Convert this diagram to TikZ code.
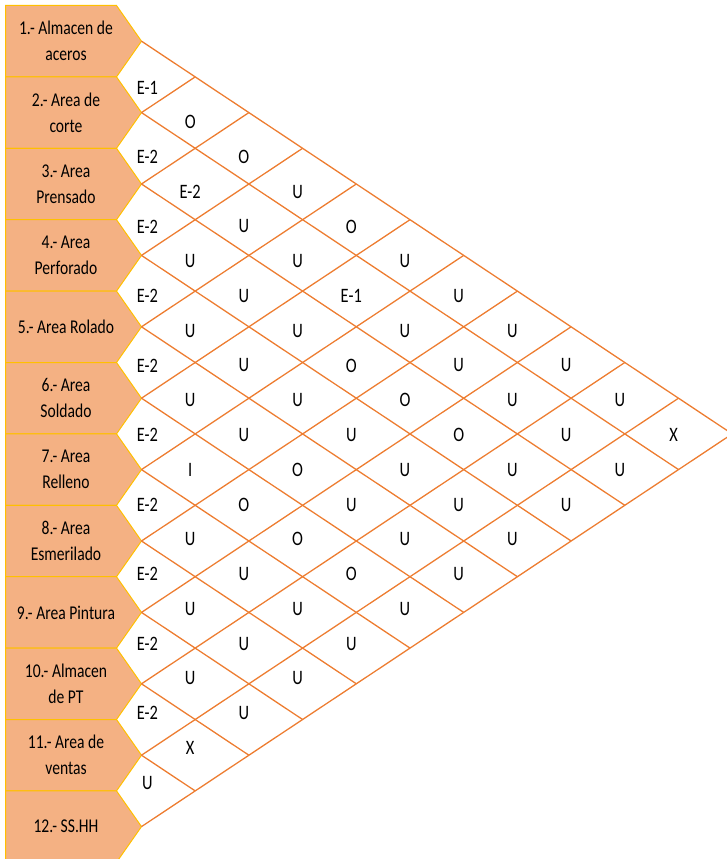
\documentclass[tikz,border=0pt]{standalone}
\usepackage{fontspec}
\setmainfont[FakeStretch=0.8]{Carlito}
\usetikzlibrary{calc}
\definecolor{areafill}{HTML}{F4B183}
\definecolor{areaedge}{HTML}{FFC000}
\definecolor{chartorange}{HTML}{ED7D31}
\tikzset{areabox/.style={fill=areafill,draw=areaedge,line width=1pt},
 arealabel/.style={align=center,font=\fontsize{19.5}{26}\selectfont,inner sep=0pt},
 rel/.style={font=\fontsize{20.5}{22}\selectfont,inner sep=0pt},
 chartline/.style={draw=chartorange,line width=1.3pt}}
\begin{document}
\begin{tikzpicture}[x=1pt,y=-1pt]
\useasboundingbox (0,0) rectangle (727,859);\clip (0,0) rectangle (727,859);
\def\W{53.7}\def\H{71.4}
\foreach \i/\txt in {1/{1.- Almacen de\\aceros},2/{2.- Area de\\corte},3/{3.- Area\\Prensado},4/{4.- Area\\Perforado},5/{5.- Area Rolado},6/{6.- Area\\Soldado},7/{7.- Area\\Relleno},8/{8.- Area\\Esmerilado},9/{9.- Area Pintura},10/{10.- Almacen\\de PT},11/{11.- Area de\\ventas},12/{12.- SS.HH}}{
 \coordinate (t\i) at (141.5,{41.2+\H*(\i-1)});
 \coordinate (lo\i) at ($(t\i)+({(12-\i)*\W},{(12-\i)*\H/2})$);\coordinate (hi\i) at ($(t\i)+({(\i-1)*\W},{-(\i-1)*\H/2})$);
 \draw[areabox] (5.5,{5.5+\H*(\i-1)}) -- (116.5,{5.5+\H*(\i-1)}) -- (t\i) -- (116.5,{5.5+\H*\i}) -- (5.5,{5.5+\H*\i}) -- cycle;
 \node[arealabel] (area\i) at (66,{41.2+\H*(\i-1)}) {\txt};}
\foreach \i in {1,...,12}{\draw[chartline] (t\i) -- (lo\i);\draw[chartline] (t\i) -- (hi\i);}
\foreach \i/\row in {1/{E-1,O,O,U,O,U,U,U,U,U,X},2/{E-2,E-2,U,U,E-1,U,U,U,U,U},3/{E-2,U,U,U,O,O,O,U,U},4/{E-2,U,U,U,U,U,U,U},5/{E-2,U,U,O,U,U,U},6/{E-2,I,O,O,O,U},7/{E-2,U,U,U,U},8/{E-2,U,U,U},9/{E-2,U,U},10/{E-2,X},11/{U}}{
 \foreach \r [count=\k] in \row{
  \pgfmathsetmacro\yc{41.2+\H*(\i-1)+\H/2*\k}\pgfmathtruncatemacro\j{\i+\k}
  \node[rel] (rel\i-\j) at ({141.5+(\k-1)*\W+(\k==1?6:-5)},{\yc+12.6-0.0265*\yc}) {\r};}}
\end{tikzpicture}
\end{document}
